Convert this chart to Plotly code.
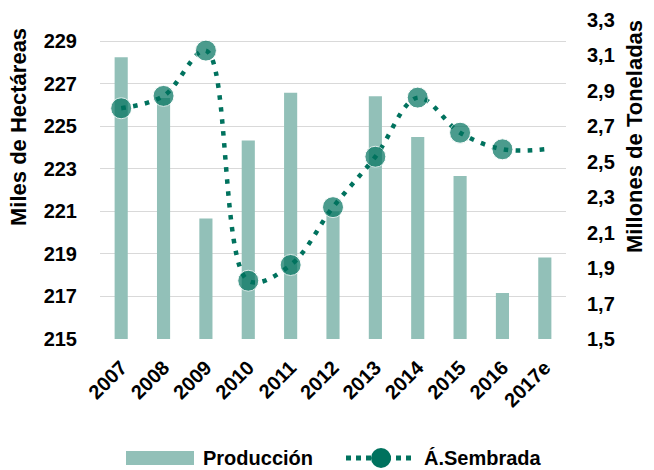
import plotly.graph_objects as go

years = ["2007", "2008", "2009", "2010", "2011", "2012", "2013", "2014", "2015", "2016", "2017e"]
produccion = [3.09, 2.86, 2.18, 2.62, 2.89, 2.22, 2.87, 2.64, 2.42, 1.76, 1.96]   # millones de t
sembrada = [225.85, 226.43, 228.56, 217.74, 218.48, 221.2, 223.57, 226.35, 224.7, 223.92, 223.92]  # miles de ha

BAR_C = "#92C0B8"
LINE_C = "#00725E"
FONT = "Liberation Sans"

W, H = 654, 470
ML, MR, MT, MB = 100, 88, 20, 131
PW, PH = W - ML - MR, H - MT - MB

def px(x):
    return (x - ML) / PW

def py(y):
    return (H - MB - y) / PH

fig = go.Figure()
fig.add_trace(go.Bar(
    x=years, y=produccion, name="Producción", yaxis="y",
    marker=dict(color=BAR_C, line=dict(width=0)), width=0.31, showlegend=False,
))
fig.add_trace(go.Scatter(
    x=years, y=sembrada, name="Á.Sembrada", yaxis="y2", mode="lines+markers",
    line=dict(color=LINE_C, width=4.5, dash="4.5px,7.5px", shape="spline", smoothing=1.0),
    marker=dict(color=LINE_C, size=[21] * (len(years) - 1) + [0]),
    showlegend=False, cliponaxis=False,
))

tickfont = dict(family=FONT, size=20, color="#000000", weight="bold")
titlefont = dict(family=FONT, size=22, color="#000000", weight="bold")

fig.update_layout(
    width=W, height=H,
    margin=dict(l=ML, r=MR, t=MT, b=MB, autoexpand=False),
    paper_bgcolor="white", plot_bgcolor="white",
    separators=",.",
    showlegend=False,
    xaxis=dict(type="category", range=[-0.5, len(years) - 0.5], tickangle=-45,
               tickfont=tickfont, showgrid=False, ticklabelstandoff=12,
               showline=False, ticks="", automargin=False),
    yaxis=dict(side="right", range=[1.5, 3.3], dtick=0.2, tick0=1.5, tickformat=".1f",
               showgrid=False, zeroline=False, tickfont=tickfont, ticks="",
               ticklabelstandoff=20, automargin=False),
    yaxis2=dict(side="left", overlaying="y", range=[215, 230], dtick=2, tick0=215,
                showgrid=True, gridcolor="#D9D9D9", gridwidth=1.3, zeroline=False,
                tickfont=tickfont, ticks="", ticklabelstandoff=22, automargin=False),
    bargap=0.69,
)

# Axis titles
fig.add_annotation(text="Miles de Hectáreas", xref="paper", yref="paper",
                   x=px(19), y=py(127), textangle=-90, showarrow=False,
                   xanchor="center", yanchor="middle", font=titlefont)
fig.add_annotation(text="Millones de Toneladas", xref="paper", yref="paper",
                   x=px(634), y=py(137), textangle=-90, showarrow=False,
                   xanchor="center", yanchor="middle", font=titlefont)

# Custom legend (bottom)
ly = 458
fig.add_shape(type="rect", xref="paper", yref="paper",
              x0=px(126), x1=px(194), y0=py(465), y1=py(451),
              fillcolor=BAR_C, line=dict(width=0))
fig.add_shape(type="line", xref="paper", yref="paper",
              x0=px(346), x1=px(414), y0=py(ly), y1=py(ly),
              line=dict(color=LINE_C, width=5, dash="5px,5px"))
fig.add_shape(type="circle", xref="paper", yref="paper",
              x0=px(371), x1=px(391), y0=py(ly + 10), y1=py(ly - 10),
              fillcolor=LINE_C, line=dict(width=0))
legfont = dict(family=FONT, size=20, color="#000000", weight="bold")
fig.add_annotation(text="Producción", xref="paper", yref="paper", x=px(201), y=py(ly),
                   xanchor="left", yanchor="middle", showarrow=False, font=legfont)
fig.add_annotation(text="Á.Sembrada", xref="paper", yref="paper", x=px(422), y=py(ly),
                   xanchor="left", yanchor="middle", showarrow=False, font=legfont)

fig.write_html("out.html", config={"responsive": False, "displayModeBar": False},
               post_script="document.body.style.margin='0';document.body.style.overflow='hidden';")
